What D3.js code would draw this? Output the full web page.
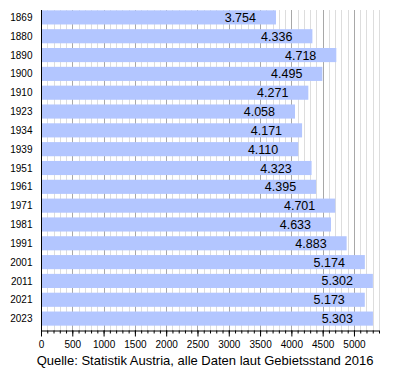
<!DOCTYPE html>
<html>
<head>
<meta charset="utf-8">
<script src="https://cdn.jsdelivr.net/npm/d3@7"></script>
<style>
  body { margin: 0; background: #fff; }
  text { font-family: "Liberation Sans", Arial, sans-serif; fill: #000; }
</style>
</head>
<body>
<div id="chart"></div>
<script>
let years = ["1869", "1880", "1890", "1900", "1910", "1923", "1934", "1939", "1951",
    "1961", "1971", "1981", "1991", "2001", "2011", "2021", "2023"];
let population = [3754, 4336, 4718, 4495, 4271, 4058, 4171, 4110, 4323,
    4395, 4701, 4633, 4883, 5174, 5302, 5173, 5303];
let majorTicks = d3.range(0, 5001, 500);
let minorTicks = d3.range(0, 5401, 100);
let source = "Quelle: Statistik Austria, alle Daten laut Gebietsstand 2016";

let width = 400, height = 370;
let svg = d3.select("#chart")
    .append("svg")
        .attr("width", width)
        .attr("height", height);

let x = d3.scaleLinear()
    .domain([0, 5400])
    .range([41, 379]);

let y = d3.scaleBand()
    .domain(years)
    .range([8, 328])
    .paddingInner(0.25)
    .paddingOuter(0.125);

let gridTop = 10, gridBottom = 331;

// grid
svg.append("g")
    .selectAll("line")
    .data(minorTicks.filter(d => d % 500 != 0))
    .enter()
    .append("line")
    .attr("x1", d => Math.round(x(d)) + 0.5)
    .attr("x2", d => Math.round(x(d)) + 0.5)
    .attr("y1", gridTop)
    .attr("y2", gridBottom)
    .attr("stroke", "#dddddd");

svg.append("g")
    .selectAll("line")
    .data(majorTicks.filter(d => d > 0))
    .enter()
    .append("line")
    .attr("x1", d => Math.round(x(d)) + 0.5)
    .attr("x2", d => Math.round(x(d)) + 0.5)
    .attr("y1", gridTop)
    .attr("y2", gridBottom)
    .attr("stroke", "#a8a8a8");

// bars
svg.append("g")
    .selectAll("rect")
    .data(population)
    .enter()
    .append("rect")
    .attr("x", x(0))
    .attr("y", (d, i) => y(years[i]))
    .attr("width", d => x(d) - x(0))
    .attr("height", y.bandwidth())
    .attr("fill", "#b3c6ff");

let fmt = d => d3.format(",")(d).replace(",", ".");

svg.append("g")
    .selectAll("text")
    .data(population)
    .enter()
    .append("text")
    .attr("x", d => x(d) - 20)
    .attr("y", (d, i) => y(years[i]) + y.bandwidth() / 2)
    .attr("dy", "0.36em")
    .attr("text-anchor", "end")
    .style("font-size", "12.5px")
    .text(fmt);

// year labels
svg.append("g")
    .selectAll("text")
    .data(years)
    .enter()
    .append("text")
    .attr("x", 32.5)
    .attr("y", d => y(d) + y.bandwidth() / 2)
    .attr("dy", "0.36em")
    .attr("text-anchor", "end")
    .style("font-size", "10px")
    .text(d => d);

// axes
svg.append("line")
    .attr("x1", 41.5).attr("x2", 41.5)
    .attr("y1", gridTop).attr("y2", gridBottom)
    .attr("stroke", "#000");

let xAxis = svg.append("g")
    .attr("transform", "translate(0," + (gridBottom - 0.5) + ")");
xAxis.call(d3.axisBottom(x).tickValues(minorTicks).tickSize(3).tickFormat(""))
    .call(g => g.select(".domain").remove());
xAxis.append("g")
    .call(d3.axisBottom(x).tickValues(majorTicks).tickSize(6).tickSizeOuter(0).tickFormat(d => d))
    .call(g => g.selectAll("text").style("font-size", "10px").attr("font-family", null)
        .attr("fill", "#000").attr("y", 10.5).attr("dy", "0.71em"))
    .call(g => g.select(".domain").attr("d", "M" + x(0) + ",0.5H" + x(5400)));
xAxis.selectAll("line").attr("stroke", "#000");

svg.append("text")
    .attr("x", 205)
    .attr("y", 365)
    .attr("text-anchor", "middle")
    .style("font-size", "13px")
    .text(source);
</script>
</body>
</html>
